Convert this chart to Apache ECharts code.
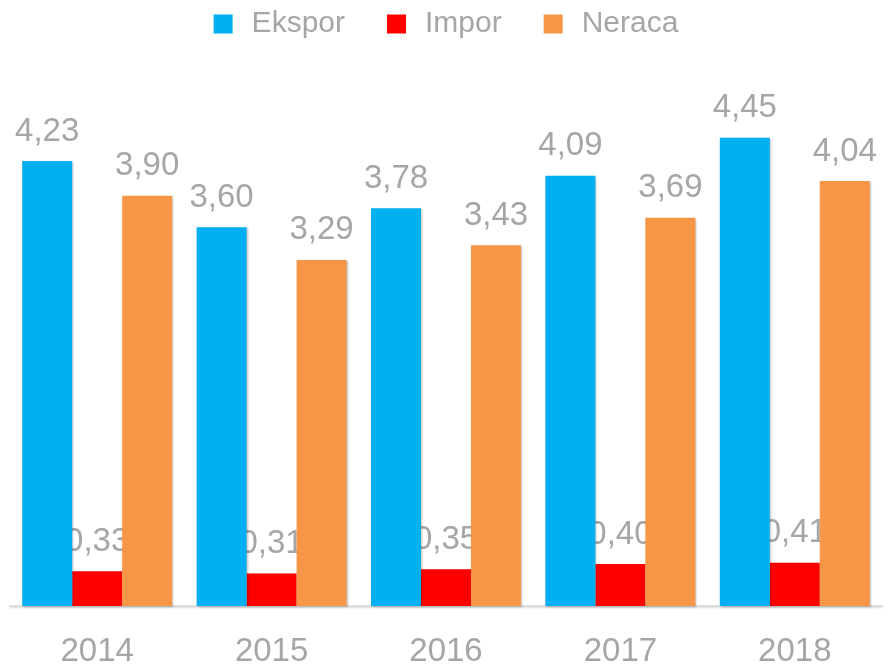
<!DOCTYPE html>
<html>
<head>
    <meta charset="UTF-8">
    <title>Ekspor Impor Neraca</title>
</head>
<body style="margin: 0;overflow: hidden;background: #fff;">
<div id="chart" style="width: 892px;height: 672px;"></div>

<script type="text/javascript" src="https://cdn.jsdelivr.net/npm/echarts@6/dist/echarts.min.js"></script>
<script>
    var years = ['2014', '2015', '2016', '2017', '2018'];
    var ekspor = [4.23, 3.60, 3.78, 4.09, 4.45];
    var impor = [0.33, 0.31, 0.35, 0.40, 0.41];
    var neraca = [3.90, 3.29, 3.43, 3.69, 4.04];

    var grey = '#A6A6A6';
    var font = '"Liberation Sans", Arial, sans-serif';

    function fmt(p) {
        return p.value.toFixed(2).replace('.', ',');
    }

    function barSeries(name, data, color, z) {
        return {
            name: name,
            type: 'bar',
            z: z,
            data: data,
            itemStyle: {
                color: color,
                shadowColor: 'rgba(0,0,0,0.25)',
                shadowBlur: 2,
                shadowOffsetX: 1,
                shadowOffsetY: 1
            },
            label: {
                show: true,
                position: 'top',
                distance: 13,
                color: grey,
                fontFamily: font,
                fontSize: 33,
                formatter: fmt
            }
        };
    }

    var chart = echarts.init(document.getElementById('chart'));
    chart.setOption({
        animation: false,
        legend: {
            top: 4,
            left: 'center',
            icon: 'rect',
            itemWidth: 19,
            itemHeight: 19,
            itemGap: 42,
            textStyle: {
                color: grey,
                fontFamily: font,
                fontSize: 30,
                padding: [0, 0, 0, 14]
            },
            data: ['Ekspor', 'Impor', 'Neraca']
        },
        grid: {
            left: 10,
            right: 10,
            top: 80,
            bottom: 66
        },
        xAxis: {
            type: 'category',
            data: years,
            axisLine: {
                lineStyle: {
                    color: '#D9D9D9',
                    width: 1.5,
                    shadowColor: 'rgba(0,0,0,0.2)',
                    shadowBlur: 2,
                    shadowOffsetY: 1
                }
            },
            axisTick: {show: false},
            axisLabel: {
                margin: 29,
                color: grey,
                fontFamily: font,
                fontSize: 33
            }
        },
        yAxis: {
            type: 'value',
            min: 0,
            max: 5,
            show: false,
            splitLine: {show: false}
        },
        series: [
            Object.assign(barSeries('Ekspor', ekspor, '#00B0F0', 2), {barGap: '0%', barCategoryGap: '14%'}),
            barSeries('Impor', impor, '#FF0000', 1),
            barSeries('Neraca', neraca, '#F79646', 2)
        ]
    });
</script>
</body>
</html>
